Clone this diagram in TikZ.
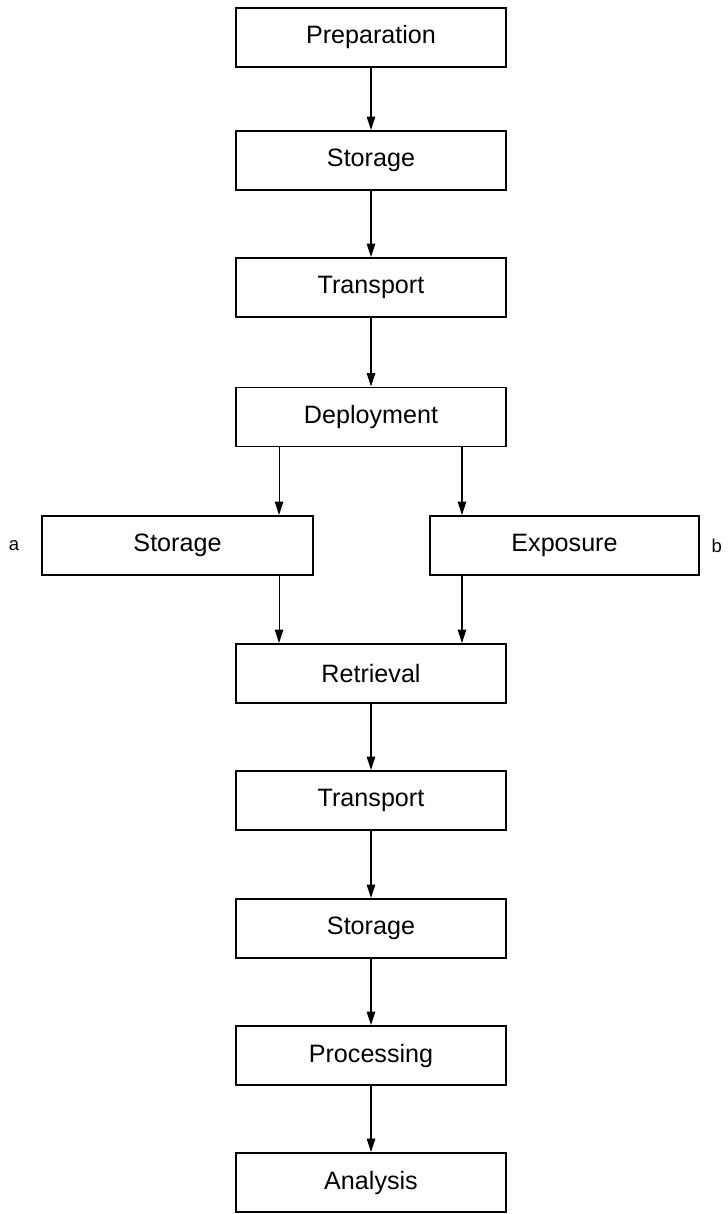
\documentclass[tikz,border=0pt]{standalone}
\usepackage{fontspec}
\setmainfont{Liberation Sans}
\usetikzlibrary{arrows.meta,positioning}
\tikzset{
  >={Triangle[length=2.7mm,width=1.7mm]},
  stage/.style={draw,line width=1.1pt,minimum width=5.4cm,minimum height=1.18cm,
    inner sep=0pt,font=\fontsize{14.3}{16}\selectfont},
  flow/.style={->,line width=0.6pt},
  tag/.style={font=\fontsize{10.5}{12}\selectfont},
}
\begin{document}
\begin{tikzpicture}
    \useasboundingbox (0,0) rectangle (14.56,-24.28);
    % main column
    \node[stage] (prep) at (7.42,-0.75) {Preparation};
    \node[stage] (sto1) at (7.42,-3.21) {Storage};
    \node[stage] (tra1) at (7.42,-5.75) {Transport};
    \node[stage] (dep) at (7.42,-8.34) {Deployment};
    % the two branches
    \node[stage,minimum width=5.42cm] (sto2) at (3.55,-10.91) {Storage};
    \node[stage,minimum width=5.38cm] (expo) at (11.29,-10.91) {Exposure};
    \node[tag] (a) at (0.28,-10.91) {a};
    \node[tag,anchor=east] (b) at (14.56,-10.91) {b};
    % back together
    \node[stage] (ret) at (7.42,-13.47) {Retrieval};
    \node[stage] (tra2) at (7.42,-16.01) {Transport};
    \node[stage] (sto3) at (7.42,-18.57) {Storage};
    \node[stage] (proc) at (7.42,-21.11) {Processing};
    \node[stage] (anal) at (7.42,-23.65) {Analysis};
    % arrows
    \draw[flow] (prep) -- (sto1);
    \draw[flow] (sto1) -- (tra1);
    \draw[flow] (tra1) -- (dep);
    \draw[flow] ([xshift=0.88cm]dep.south west) -- ([xshift=0.88cm]dep.south west |- sto2.north);
    \draw[flow] ([xshift=-0.9cm]dep.south east) -- ([xshift=-0.9cm]dep.south east |- expo.north);
    \draw[flow] ([xshift=0.88cm]dep.south west |- sto2.south) -- ([xshift=0.88cm]dep.south west |- ret.north);
    \draw[flow] ([xshift=-0.9cm]dep.south east |- expo.south) -- ([xshift=-0.9cm]dep.south east |- ret.north);
    \draw[flow] (ret) -- (tra2);
    \draw[flow] (tra2) -- (sto3);
    \draw[flow] (sto3) -- (proc);
    \draw[flow] (proc) -- (anal);
\end{tikzpicture}
\end{document}
